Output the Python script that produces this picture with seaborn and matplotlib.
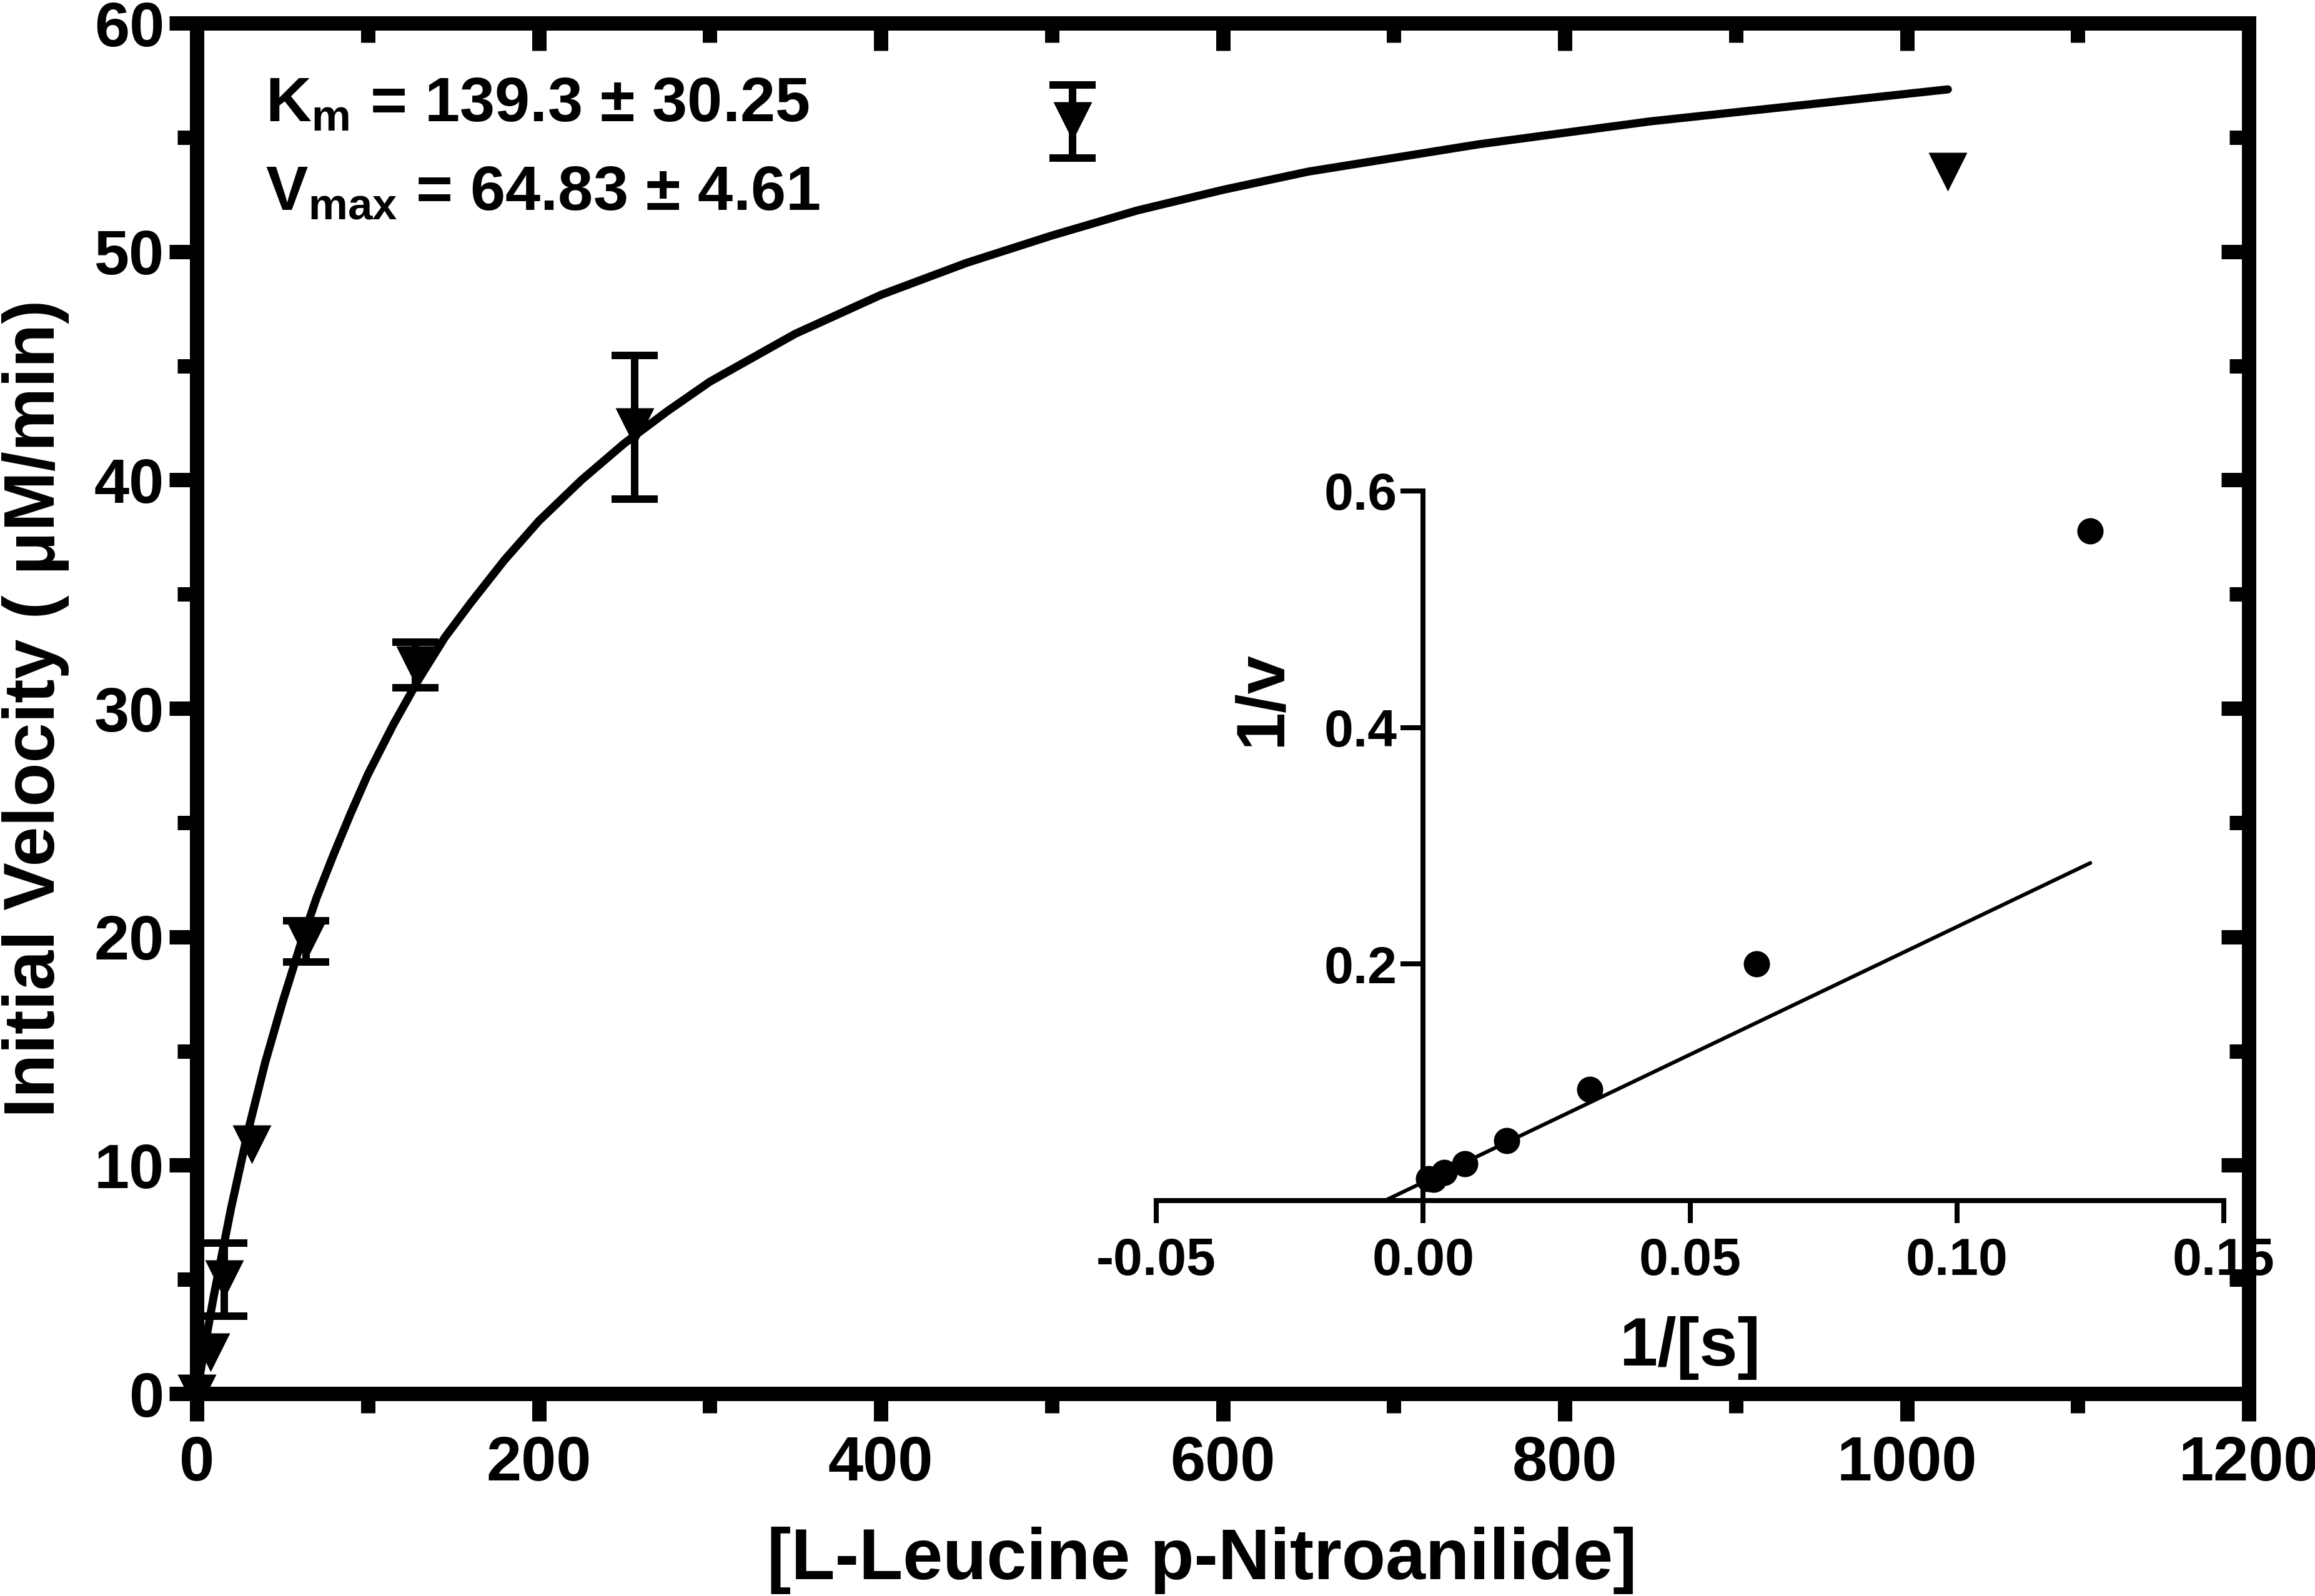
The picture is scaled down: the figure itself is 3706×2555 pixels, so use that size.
import matplotlib
matplotlib.use("Agg")
import matplotlib.pyplot as plt
import seaborn as sns
import pandas as pd

# ----------------------------
# data
# ----------------------------
substrate = [0, 8, 16, 32, 64, 128, 256, 512, 1024]
velocity = [0.0, 1.8, 5.0, 10.9, 19.8, 31.9, 42.3, 55.7, 53.5]
velocity_err = [0.0, 0.0, 1.6, 0.0, 0.9, 1.0, 3.15, 1.6, 0.0]

# fitted Michaelis-Menten curve
fit_s = [0, 5, 10, 20, 30, 40, 50, 60, 70, 80, 90, 100, 115, 130, 145, 160, 180, 200,
         225, 250, 275, 300, 350, 400, 450, 500, 550, 600, 650, 700, 750, 800, 850,
         900, 950, 1024]
fit_v = [0.0, 2.2, 4.3, 8.1, 11.5, 14.5, 17.1, 19.5, 21.7, 23.6, 25.4, 27.1, 29.3,
         31.3, 33.1, 34.6, 36.5, 38.2, 40.0, 41.6, 43.0, 44.3, 46.4, 48.1, 49.5, 50.7,
         51.8, 52.7, 53.5, 54.1, 54.7, 55.2, 55.7, 56.1, 56.5, 57.1]

# Lineweaver-Burk inset
inv_s = [0.125, 0.0625, 0.03125, 0.015625, 0.0078, 0.0039, 0.00195, 0.00098]
inv_v = [0.566, 0.200, 0.094, 0.0505, 0.0313, 0.0236, 0.0180, 0.0187]
lb_line_x = [-0.0072, 0.125]
lb_line_y = [0.0, 0.2855]

x_major = [0, 200, 400, 600, 800, 1000, 1200]
x_minor = [100, 300, 500, 700, 900, 1100]
y_major = [0, 10, 20, 30, 40, 50, 60]
y_minor = [5, 15, 25, 35, 45, 55]
inset_xticks = [-0.05, 0.0, 0.05, 0.10, 0.15]
inset_yticks = [0.2, 0.4, 0.6]

df = pd.DataFrame({"s": substrate, "v": velocity, "err": velocity_err})
fit_df = pd.DataFrame({"s": fit_s, "v": fit_v})
lb_df = pd.DataFrame({"inv_s": inv_s, "inv_v": inv_v})

sns.set_style("ticks")
plt.rcParams["font.family"] = ["Liberation Sans", "DejaVu Sans"]
plt.rcParams["font.weight"] = "bold"
plt.rcParams["axes.unicode_minus"] = False
plt.rcParams["mathtext.fontset"] = "custom"
plt.rcParams["mathtext.rm"] = "Liberation Sans:bold"
plt.rcParams["mathtext.it"] = "Liberation Sans:bold"
for key in ("text.color", "axes.labelcolor", "xtick.color", "ytick.color", "axes.edgecolor"):
    plt.rcParams[key] = "black"

DPI = 72
fig = plt.figure(figsize=(3706 / DPI, 2555 / DPI), dpi=DPI)
ax = fig.add_axes([0.0850, 0.1268, 0.8864, 0.8587])

# main curve + points
sns.lineplot(data=fit_df, x="s", y="v", ax=ax, color="black", linewidth=13)
with_err = df[df["err"] > 0]
ax.errorbar(with_err["s"], with_err["v"], yerr=with_err["err"], fmt="none",
            ecolor="black", elinewidth=12, capsize=37, capthick=12, zorder=3)
sns.scatterplot(data=df, x="s", y="v", ax=ax, marker="v", s=62 ** 2,
                color="black", linewidth=0, clip_on=False, zorder=4)

ax.set_xlim(0, 1200)
ax.set_ylim(0, 60)
ax.set_xticks(x_major)
ax.set_xticks(x_minor, minor=True)
ax.set_yticks(y_major)
ax.set_yticks(y_minor, minor=True)
for sp in ax.spines.values():
    sp.set_linewidth(23)
    sp.set_visible(True)
ax.tick_params(which="major", direction="out", length=44, width=23, labelsize=101, pad=8,
               top=False, right=False)
ax.tick_params(which="minor", direction="out", length=31, width=23, top=False, right=False)
ax.tick_params(axis="x", which="major", pad=22)

ax.set_xlabel("[L-Leucine p-Nitroanilide]", fontsize=115, fontweight="bold")
ax.set_ylabel("Initial Velocity ( μM/min)", fontsize=115, fontweight="bold")
ax.xaxis.set_label_coords(0.49, -0.097)
ax.xaxis.label.set_va("top")
ax.yaxis.set_label_coords(-0.062, 0.5)

# inward ticks on top and right
axt = ax.twiny()
axt.set_xlim(0, 1200)
axt.set_xticks(x_major)
axt.set_xticks(x_minor, minor=True)
axt.tick_params(which="major", direction="in", length=44, width=23, labeltop=False)
axt.tick_params(which="minor", direction="in", length=31, width=23)
axr = ax.twinx()
axr.set_ylim(0, 60)
axr.set_yticks(y_major)
axr.set_yticks(y_minor, minor=True)
axr.tick_params(which="major", direction="in", length=44, width=23, labelright=False)
axr.tick_params(which="minor", direction="in", length=31, width=23)
for a in (axt, axr):
    for sp in a.spines.values():
        sp.set_visible(False)

ax.text(40, 55.7, r"$\mathrm{K_m}$ = 139.3 ± 30.25", fontsize=101, fontweight="bold",
        va="baseline", ha="left")
ax.text(40, 51.8, r"$\mathrm{V_{max}}$ = 64.83 ± 4.61", fontsize=101, fontweight="bold",
        va="baseline", ha="left")

# ----------------------------
# Lineweaver-Burk inset
# ----------------------------
ax_in = fig.add_axes([0.4995, 0.2477, 0.4611, 0.4447])
ax_in.patch.set_visible(False)
sns.lineplot(x=lb_line_x, y=lb_line_y, ax=ax_in, color="black", linewidth=6)
sns.scatterplot(data=lb_df, x="inv_s", y="inv_v", ax=ax_in, marker="o", s=42 ** 2,
                color="black", linewidth=0, clip_on=False, zorder=4)
ax_in.set_xlim(-0.05, 0.15)
ax_in.set_ylim(0, 0.6)
ax_in.spines["top"].set_visible(False)
ax_in.spines["right"].set_visible(False)
ax_in.spines["left"].set_position(("data", 0))
for side in ("left", "bottom"):
    ax_in.spines[side].set_linewidth(8)
ax_in.set_xticks(inset_xticks)
ax_in.set_xticklabels([f"{t:.2f}" for t in inset_xticks])
ax_in.set_yticks(inset_yticks)
ax_in.set_yticklabels([f"{t:.1f}" for t in inset_yticks])
ax_in.tick_params(direction="out", length=36, width=8, labelsize=84)
ax_in.tick_params(axis="x", pad=22)
ax_in.tick_params(axis="y", pad=6)
ax_in.set_xlabel("1/[s]", fontsize=110, fontweight="bold")
ax_in.xaxis.set_label_coords(0.5, -0.163)
ax_in.xaxis.label.set_va("top")
ax_in.set_ylabel("1/v", fontsize=110, fontweight="bold")
ax_in.yaxis.set_label_coords(0.0995, 0.707)
ax_in.yaxis.label.set_va("center")

fig.savefig("out.png", dpi=DPI)
